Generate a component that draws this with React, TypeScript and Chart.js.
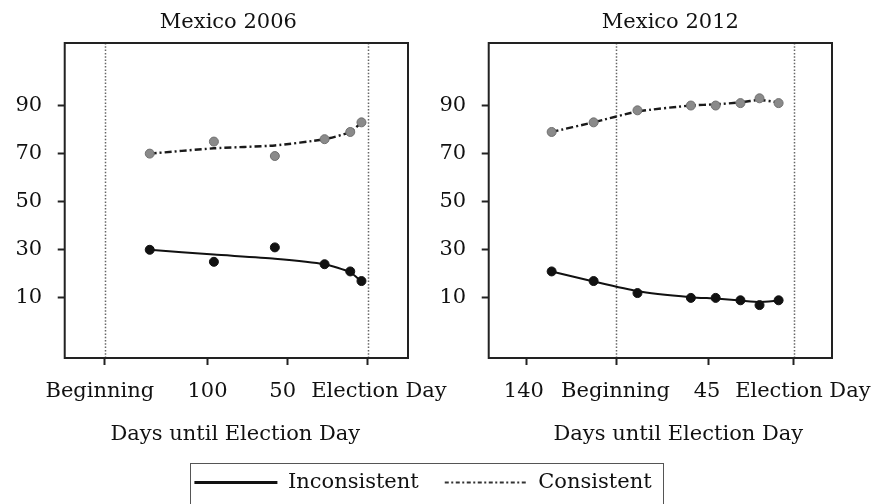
import React, { useEffect, useRef } from 'react';
import { Chart, registerables } from 'chart.js';

Chart.register(...registerables);

const FONT_FAMILY = '"DejaVu Serif", serif';

// ---- data ----
const seriesNames = ['Inconsistent', 'Consistent'];
const axisTitle = 'Days until Election Day';

const days2006 = [136, 96, 58, 27, 11, 4];
const inconsistent2006 = [30, 25, 31, 24, 21, 17];
const consistent2006 = [70, 75, 69, 76, 79, 83];
const inconsistentFit2006 = [30, 28, 26.3, 24, 20.6, 16.8];
const consistentFit2006 = [70, 72.2, 73.4, 76, 79, 83];

const days2012 = [127, 105, 82, 54, 41, 28, 18, 8];
const inconsistent2012 = [21, 17, 12, 10, 10, 9, 7, 9];
const consistent2012 = [79, 83, 88, 90, 90, 91, 93, 91];
const inconsistentFit2012 = [21, 16.8, 12.8, 10.3, 9.7, 8.9, 8.3, 8.8];
const consistentFit2012 = [79, 83, 87.5, 90, 90.5, 91.3, 92.3, 91.3];

const yTicks = [10, 30, 50, 70, 90];
const xTickValues2006 = [164, 100, 50, 0];
const xTickLabels2006 = ['Beginning', '100', '50', 'Election Day'];
const xTickValues2012 = [140, 93, 45, 0];
const xTickLabels2012 = ['140', 'Beginning', '45', 'Election Day'];
const markers2006 = [164, 0];
const markers2012 = [93, 0];

type Panel = {
  title: string;
  days: number[];
  inc: number[];
  con: number[];
  incFit: number[];
  conFit: number[];
  tickValues: number[];
  tickLabels: string[];
  markers: number[];
  xMin: number;
  xMax: number;
  left: number;
  width: number;
  padLeft: number;
  padRight: number;
  titleDx: number;
  axisTitleDx: number;
  labelDx: number[];
};

const panels: Panel[] = [
  {
    title: 'Mexico 2006', days: days2006, inc: inconsistent2006, con: consistent2006,
    incFit: inconsistentFit2006, conFit: consistentFit2006,
    tickValues: xTickValues2006, tickLabels: xTickLabels2006, markers: markers2006,
    xMin: -25, xMax: 189, left: 0, width: 452, padLeft: 0, padRight: 44, titleDx: -8,
    axisTitleDx: -1, labelDx: [-5, 0, -5, 11],
  },
  {
    title: 'Mexico 2012', days: days2012, inc: inconsistent2012, con: consistent2012,
    incFit: inconsistentFit2012, conFit: consistentFit2012,
    tickValues: xTickValues2012, tickLabels: xTickLabels2012, markers: markers2012,
    xMin: -20, xMax: 160, left: 424, width: 451, padLeft: 0, padRight: 43, titleDx: 10,
    axisTitleDx: 18, labelDx: [-3, -1, -1, 9],
  },
];

const PANEL_H = 460;
const PLOT_TOP = 43;
const PLOT_BOTTOM = 358;
const TICK_LEN = 7;

function pts(xs: number[], ys: number[]) {
  return xs.map((x, i) => ({ x, y: ys[i] }));
}

function PanelChart({ p }: { p: Panel }) {
  const ref = useRef<HTMLCanvasElement>(null);
  useEffect(() => {
    if (!ref.current) return;
    const decor = {
      id: 'panelDecor',
      beforeDatasetsDraw(chart: any) {
        const { ctx, chartArea } = chart;
        const xs = chart.scales.x;
        ctx.save();
        ctx.strokeStyle = '#666';
        ctx.lineWidth = 1.5;
        ctx.setLineDash([1.5, 1.8]);
        for (const m of p.markers) {
          const px = Math.round(xs.getPixelForValue(m)) + 0.5;
          ctx.beginPath();
          ctx.moveTo(px, chartArea.top);
          ctx.lineTo(px, chartArea.bottom);
          ctx.stroke();
        }
        ctx.restore();
      },
      afterDraw(chart: any) {
        const { ctx, chartArea } = chart;
        const xs = chart.scales.x;
        ctx.save();
        ctx.strokeStyle = '#222';
        ctx.lineWidth = 2;
        ctx.strokeRect(chartArea.left, chartArea.top, chartArea.right - chartArea.left, chartArea.bottom - chartArea.top);
        ctx.fillStyle = '#111';
        ctx.font = `21px ${FONT_FAMILY}`;
        ctx.textAlign = 'center';
        ctx.textBaseline = 'alphabetic';
        const cx = (chartArea.left + chartArea.right) / 2;
        ctx.fillText(p.title, cx + p.titleDx, 28);
        p.tickValues.forEach((v, i) => {
          ctx.fillText(p.tickLabels[i], xs.getPixelForValue(v) + p.labelDx[i], chartArea.bottom + 39);
        });
        ctx.fillText(axisTitle, cx + p.axisTitleDx, chartArea.bottom + 82);
        ctx.restore();
      },
    };
    const font = { family: FONT_FAMILY, size: 21 };
    const chart = new Chart(ref.current, {
      type: 'scatter',
      data: {
        datasets: [
          {
            label: seriesNames[0] + ' points', data: pts(p.days, p.inc),
            backgroundColor: '#111', borderColor: '#111', pointRadius: 4.5, borderWidth: 1, showLine: false,
          },
          {
            label: seriesNames[1] + ' points', data: pts(p.days, p.con),
            backgroundColor: '#8a8a8a', borderColor: '#707070', pointRadius: 4.5, borderWidth: 1, showLine: false,
          },
          {
            label: seriesNames[0], data: pts(p.days, p.incFit), showLine: true,
            borderColor: '#111', borderWidth: 2, pointRadius: 0, tension: 0.2,
          },
          {
            label: seriesNames[1], data: pts(p.days, p.conFit), showLine: true,
            borderColor: '#1a1a1a', borderWidth: 2.4, borderDash: [7, 3, 2, 3], pointRadius: 0, tension: 0.2,
          },
        ],
      },
      options: {
        animation: false,
        responsive: false,
        events: [],
        layout: {
          padding: {
            top: PLOT_TOP, left: p.padLeft, right: p.padRight,
            bottom: PANEL_H - PLOT_BOTTOM - TICK_LEN,
          },
        },
        plugins: { legend: { display: false }, tooltip: { enabled: false }, title: { display: false } },
        scales: {
          x: {
            type: 'linear', reverse: true, min: p.xMin, max: p.xMax,
            afterBuildTicks: (s: any) => { s.ticks = p.tickValues.map((v) => ({ value: v })); },
            ticks: { display: false, autoSkip: false },
            grid: { drawOnChartArea: false, drawTicks: true, tickLength: TICK_LEN, tickWidth: 2, tickColor: '#222' },
            border: { display: false },
            title: { display: false },
          },
          y: {
            min: -15, max: 116,
            afterBuildTicks: (s: any) => { s.ticks = yTicks.map((v) => ({ value: v })); },
            ticks: { font, color: '#111', padding: 15.5, autoSkip: false },
            grid: { drawOnChartArea: false, drawTicks: true, tickLength: TICK_LEN, tickWidth: 2, tickColor: '#222' },
            border: { display: false },
          },
        },
      },
      plugins: [decor],
    } as any);
    return () => chart.destroy();
  }, [p]);
  return (
    <canvas
      ref={ref}
      width={p.width}
      height={PANEL_H}
      style={{ position: 'absolute', left: p.left, top: 0, width: p.width, height: PANEL_H }}
    />
  );
}

function LegendChart() {
  const ref = useRef<HTMLCanvasElement>(null);
  useEffect(() => {
    if (!ref.current) return;
    const chart = new Chart(ref.current, {
      type: 'scatter',
      data: {
        datasets: [
          { label: seriesNames[0], data: [], borderColor: '#111', backgroundColor: '#111', borderWidth: 3 },
          { label: seriesNames[1], data: [], borderColor: '#333', backgroundColor: '#333', borderWidth: 2.2, borderDash: [4, 2.5, 2, 2.5] },
        ],
      },
      options: {
        animation: false,
        responsive: false,
        events: [],
        layout: { padding: { right: 29 } },
        scales: { x: { display: false }, y: { display: false } },
        plugins: {
          tooltip: { enabled: false },
          legend: {
            display: true, position: 'top', align: 'center', maxHeight: 300,
            labels: {
              usePointStyle: true, pointStyle: 'line', pointStyleWidth: 83,
              font: { family: FONT_FAMILY, size: 21 }, color: '#111', padding: 26,
              generateLabels: (c: any) => c.data.datasets.map((ds: any, i: number) => ({
                text: ds.label,
                fillStyle: ds.borderColor,
                strokeStyle: ds.borderColor,
                lineWidth: ds.borderWidth,
                lineDash: ds.borderDash || [],
                lineCap: 'butt',
                pointStyle: 'line',
                hidden: false,
                datasetIndex: i,
                fontColor: '#111',
              })),
            },
          },
        },
      },
    } as any);
    return () => chart.destroy();
  }, []);
  return (
    <canvas ref={ref} width={875} height={120} style={{ position: 'absolute', left: 0, top: 446, width: 875, height: 120 }} />
  );
}

export default function App() {
  return (
    <div style={{ position: 'fixed', left: 0, top: 0, width: 875, height: 504, overflow: 'hidden', background: '#fff' }}>
      {panels.map((p) => <PanelChart key={p.title} p={p} />)}
      <div style={{ position: 'absolute', left: 190, top: 463, width: 474, height: 60, boxSizing: 'border-box', border: '1.5px solid #555' }} />
      <LegendChart />
    </div>
  );
}
